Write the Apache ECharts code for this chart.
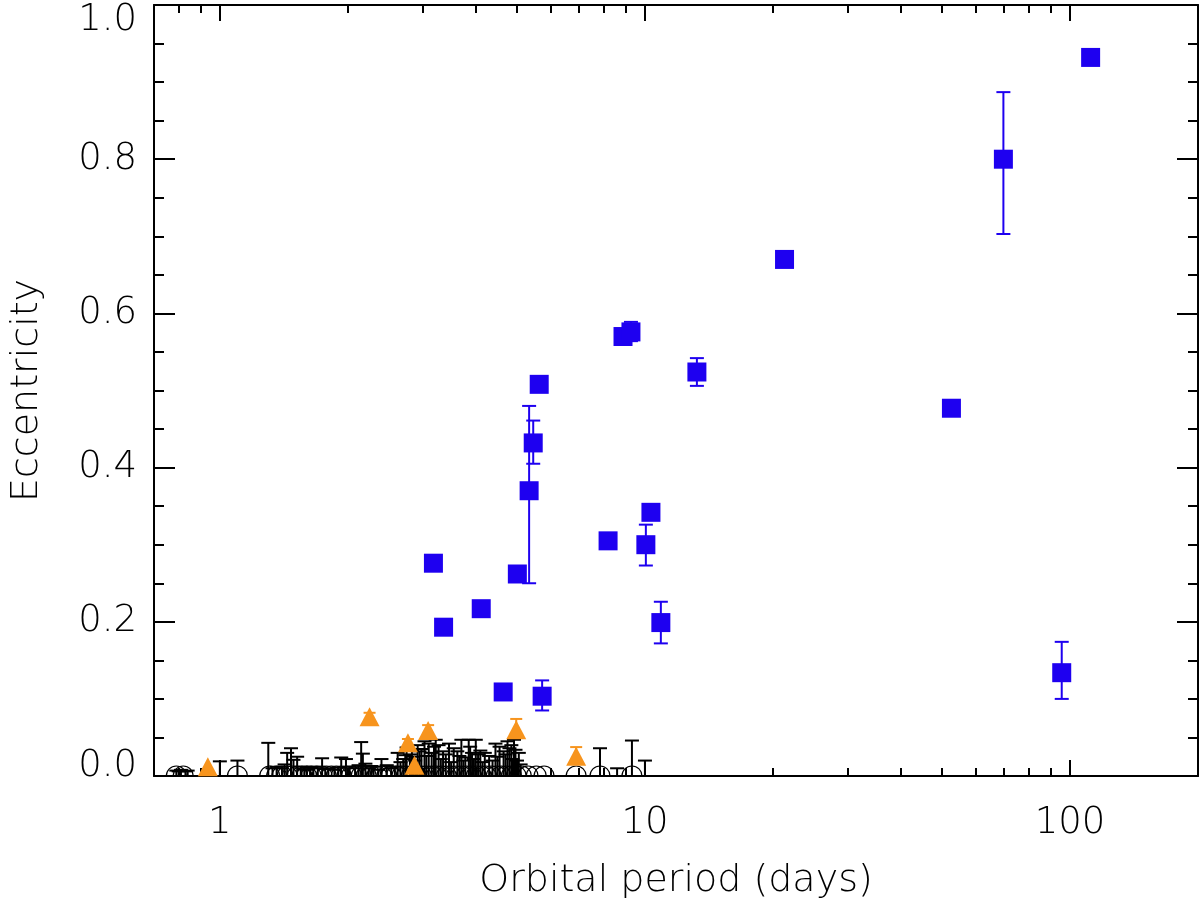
<!DOCTYPE html>
<html>
<head>
<meta charset="utf-8">
<script src="https://cdn.jsdelivr.net/npm/echarts@6/dist/echarts.min.js"></script>
<style>
html,body{margin:0;padding:0;background:#fff;}
#c{width:1200px;height:905px;}
</style>
</head>
<body>
<div id="c"></div>
<script>
// ---------------- data ----------------
const xMajorTicks = [1, 10, 100];
const xMinorTicks = [0.8, 0.9, 2, 3, 4, 5, 6, 7, 8, 9, 20, 30, 40, 50, 60, 70, 80, 90, 200];

// black open circles (eccentricity fixed at 0)
const blackCircleP = [0.79, 0.82, 1.10, 1.31, 1.36, 1.40, 1.44, 1.48, 1.52, 1.56, 1.60, 1.64, 1.69, 1.74,
  1.78, 1.83, 1.88, 1.93, 1.99, 2.04, 2.10, 2.15, 2.21, 2.27, 2.34, 2.40, 2.47, 2.53, 2.60, 2.68,
  2.75, 2.82, 2.90, 2.98, 3.06, 3.15, 3.23, 3.32, 3.41, 3.50, 3.60, 3.70, 3.80, 3.90, 4.01, 4.12,
  4.23, 4.35, 4.47, 4.59, 4.72, 4.85, 4.98, 5.12, 5.31, 5.55, 5.79, 6.89, 7.84, 9.32];

// black upper-limit bars
const blackBarP = [0.79, 0.80, 0.81, 0.83, 0.84, 1.00, 1.10, 1.30, 1.33, 1.36, 1.40, 1.42, 1.44, 1.47, 1.49,
  1.52, 1.55, 1.58, 1.60, 1.63, 1.66, 1.70, 1.74, 1.77, 1.80, 1.86, 1.90, 1.93, 1.98, 2.02, 2.08, 2.12, 2.15, 2.17, 2.20, 2.24,
  2.27, 2.30, 2.36, 2.40, 2.47, 2.53, 2.58, 2.62, 2.66, 2.70, 2.73, 2.75, 2.80, 2.83, 2.85, 2.88, 2.92, 2.95, 2.98, 3.03,
  3.06, 3.10, 3.15, 3.19, 3.22, 3.27, 3.31, 3.35, 3.40, 3.46, 3.50, 3.55, 3.62, 3.66, 3.70, 3.74, 3.78, 3.85, 3.88, 3.92,
  3.96, 4.00, 4.05, 4.10, 4.15, 4.20, 4.30, 4.38, 4.45, 4.50, 4.55, 4.65, 4.70, 4.75, 4.80, 4.85, 4.88, 4.92, 4.96,
  5.00, 5.05, 5.10, 7.84, 8.60, 9.32, 10.0];
const blackBarTop = [0.007, 0.006, 0.008, 0.006, 0.007, 0.019, 0.020, 0.043, 0.010, 0.012, 0.010, 0.015, 0.030, 0.036, 0.021,
  0.025, 0.012, 0.009, 0.008, 0.011, 0.012, 0.010, 0.023, 0.009, 0.010, 0.008, 0.011, 0.024, 0.022, 0.012, 0.010, 0.014, 0.044, 0.029, 0.016, 0.010,
  0.013, 0.012, 0.008, 0.022, 0.014, 0.010, 0.012, 0.030, 0.018, 0.022, 0.027, 0.037, 0.028, 0.034, 0.025, 0.020, 0.040, 0.032, 0.035, 0.045,
  0.026, 0.042, 0.030, 0.038, 0.047, 0.040, 0.022, 0.032, 0.028, 0.042, 0.018, 0.036, 0.032, 0.026, 0.047, 0.020, 0.024, 0.047, 0.038, 0.030,
  0.022, 0.047, 0.028, 0.033, 0.018, 0.030, 0.026, 0.020, 0.042, 0.025, 0.038, 0.032, 0.028, 0.045, 0.036, 0.040, 0.022, 0.047, 0.034,
  0.020, 0.030, 0.015, 0.036, 0.010, 0.046, 0.020];

// orange triangles
const orangeP = [0.937, 2.25, 2.77, 2.87, 3.09, 4.98, 6.89];
const orangeE = [0.012, 0.077, 0.043, 0.014, 0.059, 0.060, 0.0255];
const orangeHi = [null, 0.082, 0.048, null, 0.066, 0.074, 0.0375];

// blue squares
const blueP = [3.18, 3.36, 4.12, 4.64, 5.01, 5.34, 5.46, 5.64, 5.73, 8.19, 8.88, 9.27, 10.05, 10.33, 10.9, 13.25, 21.3, 52.6, 69.7, 95.6, 111.8];
const blueE = [0.276, 0.193, 0.217, 0.109, 0.262, 0.370, 0.432, 0.508, 0.1035, 0.305, 0.570, 0.576, 0.300, 0.342, 0.199, 0.524, 0.670, 0.477, 0.800, 0.134, 0.932];
const blueLo = [null, null, null, null, null, 0.250, 0.405, null, 0.085, null, null, 0.564, 0.273, null, 0.172, 0.506, null, null, 0.703, 0.100, null];
const blueHi = [null, null, null, null, null, 0.480, 0.461, null, 0.124, null, null, 0.589, 0.326, null, 0.226, 0.542, null, null, 0.887, 0.174, null];

// ---------------- chart ----------------
const BLUE = '#1e00f0';
const ORANGE = '#f7941d';
const FONT = 'DejaVu Sans';
const FW = 200;

function errBarRenderer(color, lw, capHalf, lowerCap) {
  return function (params, api) {
    const x = api.value(0), lo = api.value(1), hi = api.value(2);
    const a = api.coord([x, lo]);
    const b = api.coord([x, hi]);
    const st = { stroke: color, lineWidth: lw };
    const ch = [
      { type: 'line', shape: { x1: a[0], y1: a[1], x2: b[0], y2: b[1] }, style: st },
      { type: 'line', shape: { x1: b[0] - capHalf, y1: b[1], x2: b[0] + capHalf, y2: b[1] }, style: st }
    ];
    if (lowerCap) ch.push({ type: 'line', shape: { x1: a[0] - capHalf, y1: a[1], x2: a[0] + capHalf, y2: a[1] }, style: st });
    return { type: 'group', children: ch };
  };
}

function halfCircleRenderer(params, api) {
  const c = api.coord([api.value(0), api.value(1)]);
  return {
    type: 'arc',
    shape: { cx: c[0], cy: c[1], r: 10, startAngle: Math.PI, endAngle: 2 * Math.PI, clockwise: true },
    style: { stroke: '#000', lineWidth: 1.2, fill: null }
  };
}

const blackBarData = blackBarP.map((p, i) => [p, 0, blackBarTop[i]]);
const blackCircleData = blackCircleP.map(p => [p, 0]);
const orangeData = orangeP.map((p, i) => [p, orangeE[i]]);
const orangeErrData = orangeP.map((p, i) => orangeHi[i] == null ? null : [p, orangeE[i], orangeHi[i]]).filter(d => d);
const blueData = blueP.map((p, i) => [p, blueE[i]]);
const blueErrData = blueP.map((p, i) => blueLo[i] == null ? null : [p, blueLo[i], blueHi[i]]).filter(d => d);

const axisLineStyle = { color: '#000', width: 2 };

function xAxisDef(pos, major, showLine, showLabel) {
  return {
    type: 'log', logBase: 10, min: 0.7, max: 200, position: pos,
    gridIndex: 0,
    axisLine: { show: showLine, lineStyle: axisLineStyle },
    axisTick: { show: true, inside: true, length: major ? 16 : 8, lineStyle: { color: '#000', width: 2 },
      customValues: major ? xMajorTicks : xMinorTicks },
    minorTick: { show: false },
    splitLine: { show: false },
    axisLabel: { show: showLabel, customValues: xMajorTicks, formatter: v => String(v),
      fontFamily: FONT, fontWeight: FW, fontSize: 37, color: '#000', margin: 29, lineHeight: 37 },
    name: showLabel ? 'Orbital period (days)' : '',
    nameLocation: 'middle', nameGap: 86,
    nameTextStyle: { fontFamily: FONT, fontWeight: FW, fontSize: 38, color: '#000' }
  };
}

function yAxisDef(pos, showLabel) {
  return {
    type: 'value', min: 0, max: 1, interval: 0.2, position: pos,
    axisLine: { show: true, lineStyle: axisLineStyle },
    axisTick: { show: true, inside: true, length: 21, lineStyle: { color: '#000', width: 2 } },
    minorTick: { show: true, splitNumber: 4, length: 10, lineStyle: { color: '#000', width: 2 } },
    splitLine: { show: false },
    axisLabel: {
      show: showLabel, margin: 17, fontFamily: FONT, fontWeight: FW, fontSize: 37, color: '#000',
      formatter: v => {
        const s = v.toFixed(1);
        if (v >= 0.999) return '{top|' + s + '}';
        if (v <= 0.001) return '{bot|' + s + '}';
        return s;
      },
      rich: {
        top: { fontFamily: FONT, fontWeight: FW, fontSize: 37, color: '#000', padding: [30, 0, 0, 0] },
        bot: { fontFamily: FONT, fontWeight: FW, fontSize: 37, color: '#000', padding: [0, 0, 20, 0] }
      }
    },
    name: showLabel ? 'Eccentricity' : '',
    nameLocation: 'middle', nameGap: 108,
    nameTextStyle: { fontFamily: FONT, fontWeight: FW, fontSize: 38, color: '#000' }
  };
}

const chart = echarts.init(document.getElementById('c'), null, { renderer: 'canvas' });
chart.setOption({
  backgroundColor: '#fff',
  animation: false,
  grid: { left: 152, right: 2, top: 5, bottom: 127, containLabel: false },
  xAxis: [
    xAxisDef('bottom', true, true, true),
    xAxisDef('bottom', false, false, false),
    xAxisDef('top', true, true, false),
    xAxisDef('top', false, false, false)
  ],
  yAxis: [
    yAxisDef('left', true),
    yAxisDef('right', false)
  ],
  series: [
    {
      type: 'custom', name: 'blackCircles', xAxisIndex: 0, yAxisIndex: 0, clip: true, z: 2,
      renderItem: halfCircleRenderer,
      encode: { x: 0, y: 1 }, data: blackCircleData
    },
    {
      type: 'custom', name: 'blackBars', xAxisIndex: 0, yAxisIndex: 0, clip: true, z: 3,
      renderItem: errBarRenderer('#000', 2, 7, false),
      encode: { x: 0, y: [1, 2] }, data: blackBarData
    },
    {
      type: 'custom', name: 'orangeErr', xAxisIndex: 0, yAxisIndex: 0, clip: true, z: 4,
      renderItem: errBarRenderer(ORANGE, 2, 6, false),
      encode: { x: 0, y: [1, 2] }, data: orangeErrData
    },
    {
      type: 'scatter', name: 'orange', xAxisIndex: 0, yAxisIndex: 0, clip: true, z: 5,
      symbol: 'triangle', symbolSize: [20, 19],
      itemStyle: { color: ORANGE, opacity: 1 },
      emphasis: { disabled: true },
      data: orangeData
    },
    {
      type: 'custom', name: 'blueErr', xAxisIndex: 0, yAxisIndex: 0, clip: true, z: 6,
      renderItem: errBarRenderer(BLUE, 2, 7, true),
      encode: { x: 0, y: [1, 2] }, data: blueErrData
    },
    {
      type: 'scatter', name: 'blue', xAxisIndex: 0, yAxisIndex: 0, clip: true, z: 7,
      symbol: 'rect', symbolSize: 19,
      itemStyle: { color: BLUE, opacity: 1 },
      emphasis: { disabled: true },
      data: blueData
    }
  ]
});
</script>
</body>
</html>
